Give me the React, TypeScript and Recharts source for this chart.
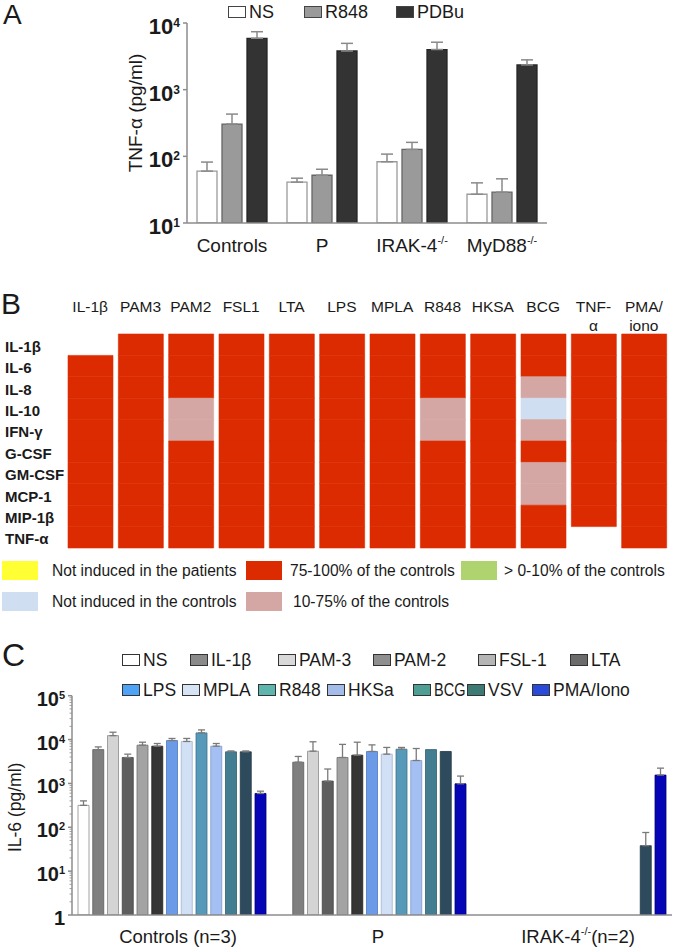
import React from "react";
import { BarChart, Bar, XAxis, YAxis, ErrorBar, Cell } from "recharts";

// ---------- Panel A: TNF-alpha ----------
const tnfGroups = ["Controls", "P", "IRAK-4", "MyD88"];
const tnfGroupSup = ["", "", "-/-", "-/-"];
const tnfSeries = ["NS", "R848", "PDBu"];
const tnfNS = [60, 41, 83, 27];
const tnfNSTop = [82, 47, 108, 40];
const tnfR848 = [305, 52, 127, 29];
const tnfR848Top = [430, 64, 162, 46];
const tnfPDBu = [5900, 3800, 4000, 2350];
const tnfPDBuTop = [7400, 4950, 5150, 2800];
const tnfTicks = [10, 100, 1000, 10000];

// ---------- Panel B: induction heatmap ----------
const stimuli = ["IL-1β", "PAM3", "PAM2", "FSL1", "LTA", "LPS", "MPLA", "R848", "HKSA", "BCG", "TNF-α", "PMA/iono"];
const stimulusLines = [["IL-1β"], ["PAM3"], ["PAM2"], ["FSL1"], ["LTA"], ["LPS"], ["MPLA"], ["R848"], ["HKSA"], ["BCG"], ["TNF-", "α"], ["PMA/", "iono"]];
const cytokines = ["IL-1β", "IL-6", "IL-8", "IL-10", "IFN-γ", "G-CSF", "GM-CSF", "MCP-1", "MIP-1β", "TNF-α"];
// R = 75-100%, P = 10-75%, B = not induced in controls, - = not tested
const induction = [
  "-RRRRRRRRR",
  "RRRRRRRRRR",
  "RRRPPRRRRR",
  "RRRRRRRRRR",
  "RRRRRRRRRR",
  "RRRRRRRRRR",
  "RRRRRRRRRR",
  "RRRPPRRRRR",
  "RRRRRRRRRR",
  "RRPBPRPPRR",
  "RRRRRRRRR-",
  "RRRRRRRRRR",
];
const heatLegendKeys = ["Y", "R", "G", "B", "P"];
const heatLegendLabels = [
  "Not induced in the patients",
  "75-100% of the controls",
  "> 0-10% of the controls",
  "Not induced in the controls",
  "10-75% of the controls",
];

// ---------- Panel C: IL-6 ----------
const il6Groups = ["Controls (n=3)", "P", "IRAK-4"];
const il6GroupSup = ["", "", "-/-"];
const il6GroupTail = ["", "", "(n=2)"];
const il6Stimuli = ["NS", "IL-1β", "PAM-3", "PAM-2", "FSL-1", "LTA", "LPS", "MPLA", "R848", "HKSa", "BCG", "VSV", "PMA/Iono"];
const il6Controls = [316, 5900, 12300, 3900, 7450, 7060, 9500, 9050, 14200, 7060, 5250, 5250, 590];
const il6ControlsTop = [400, 6800, 14700, 4650, 8700, 8130, 10600, 10600, 16600, 8130, 5500, 5500, 665];
const il6Patient = [null, 3050, 5430, 1130, 3900, 4410, 5350, 4650, 6030, 3330, 5900, 5350, 980];
const il6PatientTop = [null, 4120, 8900, 2130, 7760, 8700, 7560, 6610, 6610, 6250, 5900, 5350, 1470];
const il6Irak = [null, null, null, null, null, null, null, null, null, null, null, 38, 1550];
const il6IrakTop = [null, null, null, null, null, null, null, null, null, null, null, 76, 2230];
const il6Decades = [1, 10, 100, 1000, 10000, 100000];
const il6Minor = [2, 3, 4, 5, 6, 7, 8, 9];

// ---------- styles ----------
const FONT = '"Liberation Sans", Arial, Helvetica, sans-serif';
const INK = "#1a1a1a";
const AXIS = "#8c8c8c";
const tnfFill = ["#ffffff", "#9a9a9a", "#333333"];
const tnfStroke = ["#9a9a9a", "#666666", "#262626"];
const tnfLegendX = [228, 304, 396];
const heatColors: Record<string, string> = {
  R: "#dc2b00",
  P: "#d4a7a5",
  B: "#d0def1",
  Y: "#ffff33",
  G: "#aed36f",
  "-": "none",
};
const heatLegendPos = [
  { sx: 2, tx: 52, top: 561 },
  { sx: 246, tx: 290, top: 561 },
  { sx: 461, tx: 504, top: 561 },
  { sx: 2, tx: 52, top: 592 },
  { sx: 246, tx: 293, top: 592 },
];
const il6Fill = ["#ffffff", "#7f7f7f", "#d4d4d4", "#5e5e5e", "#a3a3a3", "#353535", "#6b9ae6", "#d2e0f6", "#5699b8", "#a4c0f2", "#427d92", "#2d4b5d", "#0505b5"];
const il6Stroke = ["#8a8a8a", "#5a5a5a", "#8a8a8a", "#444444", "#6e6e6e", "#222222", "#4a78c0", "#9fb2cf", "#3d7590", "#7d98c8", "#2f5f70", "#1f3644", "#03037a"];
const il6LegendFill = ["#ffffff", "#8a8a8a", "#d9d9d9", "#8f8f8f", "#b5b5b5", "#6b6b6b", "#4fa3f5", "#d5e3f5", "#5db5ad", "#a3bde8", "#4f9e96", "#3d7a73", "#2a4ad8"];
const il6LegendPos = [
  { x: 122, row: 0, sx: 1 }, { x: 190, row: 0, sx: 1 }, { x: 278, row: 0, sx: 1 }, { x: 373, row: 0, sx: 1 }, { x: 478, row: 0, sx: 1 }, { x: 570, row: 0, sx: 1 },
  { x: 122, row: 1, sx: 1 }, { x: 182, row: 1, sx: 1 }, { x: 258, row: 1, sx: 1 }, { x: 327, row: 1, sx: 1 }, { x: 413, row: 1, sx: 0.83 }, { x: 467, row: 1, sx: 1 }, { x: 532, row: 1, sx: 1 },
];

// ---------- derived tables ----------
const tnfValues = [tnfNS, tnfR848, tnfPDBu];
const tnfTops = [tnfNSTop, tnfR848Top, tnfPDBuTop];
const tnfData = tnfGroups.map((g, gi) => {
  const row: any = { name: g };
  tnfSeries.forEach((s, si) => {
    row[s] = tnfValues[si][gi];
    row[s + "Err"] = [0, tnfTops[si][gi] - tnfValues[si][gi]];
  });
  return row;
});

const heatData = stimuli.map((s) => {
  const row: any = { name: s };
  cytokines.forEach((_, i) => (row["r" + i] = 1));
  return row;
});

const il6Rows = [il6Controls, il6Patient, il6Irak];
const il6TopRows = [il6ControlsTop, il6PatientTop, il6IrakTop];
const il6Data = il6Groups.map((g, gi) => {
  const row: any = { name: g };
  il6Stimuli.forEach((_, si) => {
    const v = il6Rows[gi][si];
    const t = il6TopRows[gi][si];
    row["s" + si] = v;
    row["e" + si] = v != null && t != null && t > v ? [0, t - v] : null;
  });
  return row;
});
// major decades plus minor log ticks between them
const il6Ticks: number[] = [];
il6Decades.forEach((d, i) => {
  il6Ticks.push(d);
  if (i < il6Decades.length - 1) il6Minor.forEach((m) => il6Ticks.push(d * m));
});

// ---------- ticks ----------
function powerLabel(v: number, x: number, y: number, size: number, supSize: number, supDy: number) {
  const exp = Math.round(Math.log10(v));
  return (
    <text x={x} y={y} textAnchor="end" fontWeight="bold" fontSize={size} fill={INK}>
      {exp === 0 ? (
        "1"
      ) : (
        <>
          <tspan>10</tspan>
          <tspan dy={supDy} fontSize={supSize}>{exp}</tspan>
        </>
      )}
    </text>
  );
}

const Swatch = ({ fill, w, h, border }: { fill: string; w: number; h: number; border?: string }) => (
  <div style={{ width: w, height: h, background: fill, border: border ? `1px solid ${border}` : "none", boxSizing: "border-box", flex: "none" }} />
);

export default function App() {
  return (
    <div style={{ position: "absolute", left: 0, top: 0, width: 677, height: 950, background: "#fff", fontFamily: FONT, color: INK }}>
      {/* panel letters */}
      <div style={{ position: "absolute", left: 3, top: 1, fontSize: 28, lineHeight: "28px" }}>A</div>
      <div style={{ position: "absolute", left: 1, top: 289, fontSize: 30, lineHeight: "30px" }}>B</div>
      <div style={{ position: "absolute", left: 2, top: 639, fontSize: 32, lineHeight: "32px" }}>C</div>

      {/* Panel A legend */}
      {tnfSeries.map((s, i) => (
        <div key={s} style={{ position: "absolute", left: tnfLegendX[i], top: 2, height: 20, display: "flex", alignItems: "center" }}>
          <Swatch fill={tnfFill[i]} w={18} h={12} border="#444" />
          <span style={{ marginLeft: 3, fontSize: 18 }}>{s}</span>
        </div>
      ))}

      {/* Panel A chart */}
      <div style={{ position: "absolute", left: 0, top: 0 }}>
        <BarChart width={677} height={260} data={tnfData} margin={{ top: 23, right: 130, bottom: 7, left: 127 }} barGap={5}>
          <XAxis
            dataKey="name"
            interval={0}
            tickLine={false}
            axisLine={{ stroke: AXIS, strokeWidth: 1.5 }}
            tick={(p: any) => (
              <text x={p.x} y={p.y + 21} textAnchor="middle" fontSize={19} fill={INK}>
                {p.payload.value}
                {tnfGroupSup[p.index] ? (
                  <tspan dy={-8} fontSize={11}>{tnfGroupSup[p.index]}</tspan>
                ) : null}
              </text>
            )}
          />
          <YAxis
            width={60}
            scale="log"
            domain={[10, 10000]}
            allowDataOverflow
            ticks={tnfTicks}
            interval={0}
            tickSize={4}
            tickLine={{ stroke: AXIS, strokeWidth: 1.5 }}
            axisLine={{ stroke: AXIS, strokeWidth: 1.5 }}
            tick={(p: any) => powerLabel(p.payload.value, p.x - 1, p.y + 11, 22, 12, -7)}
            label={(p: any) => {
              const vb = p.viewBox;
              const cx = vb.x + 8;
              const cy = vb.y + vb.height / 2 - 10;
              return (
                <text x={cx} y={cy} transform={`rotate(-90 ${cx} ${cy})`} textAnchor="middle" dominantBaseline="central" fontSize={19} fill={INK}>
                  TNF-α (pg/ml)
                </text>
              );
            }}
          />
          {tnfSeries.map((s, i) => (
            <Bar key={s} dataKey={s} barSize={20} fill={tnfFill[i]} stroke={tnfStroke[i]} strokeWidth={1.3} isAnimationActive={false}>
              <ErrorBar dataKey={s + "Err"} width={6} stroke="#8a8a8a" strokeWidth={1.5} direction="y" isAnimationActive={false} />
            </Bar>
          ))}
        </BarChart>
      </div>

      {/* Panel B heatmap */}
      <div style={{ position: "absolute", left: 0, top: 280 }}>
        <BarChart width={677} height={280} data={heatData} margin={{ top: 24, right: 8, bottom: 12, left: 5 }} barGap={0}>
          <XAxis
            dataKey="name"
            orientation="top"
            height={30}
            interval={0}
            axisLine={false}
            tickLine={false}
            tick={(p: any) => (
              <text x={p.x} y={p.y - 14} textAnchor="middle" fontSize={15.5} fill={INK}>
                {stimulusLines[p.index].map((l, i) => (
                  <tspan key={i} x={p.x} dy={i === 0 ? 0 : 18.5}>{l}</tspan>
                ))}
              </text>
            )}
          />
          <YAxis
            width={60}
            type="number"
            domain={[0, cytokines.length]}
            reversed
            ticks={cytokines.map((_, i) => i + 0.5)}
            interval={0}
            axisLine={false}
            tickLine={false}
            tick={(p: any) => (
              <text x={5} y={p.y + 7} textAnchor="start" fontSize={15} fontWeight="bold" fill={INK}>
                {cytokines[Math.floor(p.payload.value)]}
              </text>
            )}
          />
          {cytokines.map((c, ci) => (
            <Bar key={c} dataKey={"r" + ci} stackId="heat" barSize={45} isAnimationActive={false}>
              {stimuli.map((s, si) => {
                const col = heatColors[induction[si][ci]];
                return <Cell key={s} fill={col} stroke={col} strokeWidth={col === "none" ? 0 : 0.6} />;
              })}
            </Bar>
          ))}
        </BarChart>
      </div>

      {/* Panel B legend */}
      {heatLegendKeys.map((k, i) => (
        <React.Fragment key={k}>
          <div style={{ position: "absolute", left: heatLegendPos[i].sx, top: heatLegendPos[i].top }}>
            <Swatch fill={heatColors[k]} w={36} h={19} />
          </div>
          <div style={{ position: "absolute", left: heatLegendPos[i].tx, top: heatLegendPos[i].top, height: 19, lineHeight: "19px", fontSize: 15.6, whiteSpace: "nowrap" }}>
            {heatLegendLabels[i]}
          </div>
        </React.Fragment>
      ))}

      {/* Panel C legend */}
      {il6Stimuli.map((s, i) => (
        <div key={s} style={{ position: "absolute", left: il6LegendPos[i].x, top: il6LegendPos[i].row === 0 ? 650 : 680, height: 20, display: "flex", alignItems: "center", whiteSpace: "nowrap" }}>
          <Swatch fill={il6LegendFill[i]} w={18} h={12} border="#333" />
          <span style={{ marginLeft: 3, fontSize: 17.5, display: "inline-block", transform: `scaleX(${il6LegendPos[i].sx})`, transformOrigin: "left center" }}>{s}</span>
        </div>
      ))}

      {/* Panel C chart */}
      <div style={{ position: "absolute", left: 0, top: 640 }}>
        <BarChart width={677} height={310} data={il6Data} margin={{ top: 55.7, right: 5, bottom: 5, left: 12 }} barGap={3.75}>
          <XAxis
            dataKey="name"
            interval={0}
            tickLine={false}
            axisLine={{ stroke: AXIS, strokeWidth: 1.5 }}
            tick={(p: any) => (
              <text x={p.x + 6} y={p.y + 20} textAnchor="middle" fontSize={18.5} fill={INK}>
                {p.payload.value}
                {il6GroupSup[p.index] ? (
                  <>
                    <tspan dy={-8} fontSize={11}>{il6GroupSup[p.index]}</tspan>
                    <tspan dy={8}>{il6GroupTail[p.index]}</tspan>
                  </>
                ) : null}
              </text>
            )}
          />
          <YAxis
            width={60}
            scale="log"
            domain={[1, 100000]}
            allowDataOverflow
            ticks={il6Ticks}
            interval={0}
            tickSize={0}
            tickMargin={0}
            tickLine={false}
            axisLine={{ stroke: AXIS, strokeWidth: 1.5 }}
            tick={(p: any) => {
              const v = p.payload.value;
              const major = il6Decades.includes(v);
              return (
                <g>
                  <line x1={p.x - (major ? 4 : 2.5)} x2={p.x} y1={p.y} y2={p.y} stroke={AXIS} strokeWidth={major ? 1.5 : 0.8} />
                  {major ? powerLabel(v, p.x - 7, p.y + 10, 20, 11, -7) : null}
                </g>
              );
            }}
            label={(p: any) => {
              const vb = p.viewBox;
              const cx = vb.x + 3;
              const cy = vb.y + vb.height / 2 + 2;
              return (
                <text x={cx} y={cy} transform={`rotate(-90 ${cx} ${cy})`} textAnchor="middle" dominantBaseline="central" fontSize={17.5} fill={INK}>
                  IL-6 (pg/ml)
                </text>
              );
            }}
          />
          {il6Stimuli.map((s, i) => (
            <Bar key={s} dataKey={"s" + i} name={s} barSize={11} fill={il6Fill[i]} stroke={il6Stroke[i]} strokeWidth={0.8} isAnimationActive={false}>
              <ErrorBar dataKey={"e" + i} width={3.5} stroke="#7a7a7a" strokeWidth={1.3} direction="y" isAnimationActive={false} />
            </Bar>
          ))}
        </BarChart>
      </div>
    </div>
  );
}
